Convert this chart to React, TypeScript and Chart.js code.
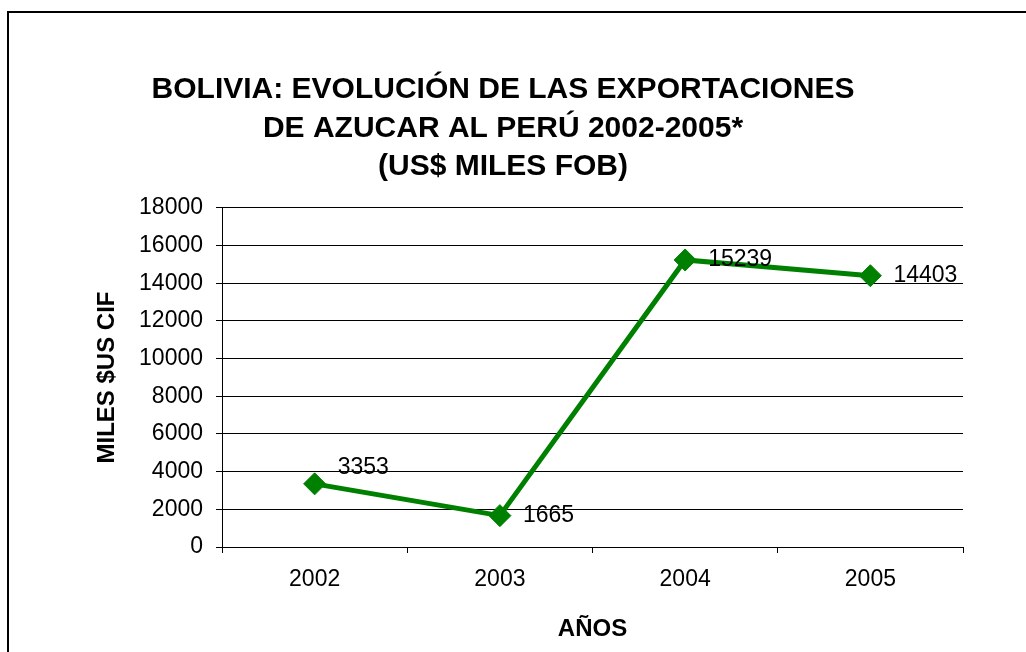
import React, { useEffect, useRef } from "react";
import { Chart, registerables } from "chart.js";

Chart.register(...registerables);

const years = ["2002", "2003", "2004", "2005"];
const exports = [3353, 1665, 15239, 14403];
const titleLines = [
  "BOLIVIA: EVOLUCIÓN DE LAS EXPORTACIONES",
  "DE AZUCAR AL PERÚ 2002-2005*",
  "(US$ MILES FOB)",
];
const yTitle = "MILES $US CIF";
const xTitle = "AÑOS";

const FONT = "'Liberation Sans', Arial, sans-serif";
const GREEN = "#008000";

const frame = {
  id: "frame",
  beforeDraw(chart: any) {
    const ctx = chart.ctx;
    ctx.save();
    ctx.fillStyle = "#fff";
    ctx.fillRect(0, 0, chart.width, chart.height);
    ctx.strokeStyle = "#000";
    ctx.lineWidth = 2;
    ctx.strokeRect(8, 12, chart.width + 50, chart.height + 50);
    ctx.restore();
  },
};

const valueLabels = {
  id: "valueLabels",
  afterDatasetsDraw(chart: any, _args: any, opts: any) {
    const ctx = chart.ctx;
    const meta = chart.getDatasetMeta(0);
    const data = chart.data.datasets[0].data;
    ctx.save();
    ctx.font = `23px ${FONT}`;
    ctx.fillStyle = "#000";
    ctx.textAlign = "left";
    ctx.textBaseline = "middle";
    meta.data.forEach((pt: any, i: number) => {
      const dy = (opts.shift && opts.shift[i]) || 0;
      ctx.fillText(String(data[i]), pt.x + 23, pt.y + dy);
    });
    ctx.restore();
  },
};

export default function App() {
  const ref = useRef<HTMLCanvasElement>(null);
  useEffect(() => {
    if (!ref.current) return;
    const chart = new Chart(ref.current, {
      type: "line",
      data: {
        labels: years,
        datasets: [
          {
            data: exports,
            borderColor: GREEN,
            backgroundColor: GREEN,
            borderWidth: 5,
            pointStyle: "rectRot",
            pointRadius: 11,
            pointBorderWidth: 1,
            pointBackgroundColor: GREEN,
            pointBorderColor: GREEN,
            tension: 0,
            yAxisID: "y",
          },
        ],
      },
      options: {
        animation: false,
        responsive: false,
        maintainAspectRatio: false,
        layout: { padding: { left: 0, right: 20, top: 0, bottom: 0 } },
        plugins: {
          legend: { display: false },
          tooltip: { enabled: false },
          title: {
            display: true,
            text: titleLines,
            color: "#000",
            font: { family: FONT, size: 30, weight: "bold", lineHeight: 1.283 },
            padding: { top: 70.5, bottom: 22 },
          },
          valueLabels: { shift: { 0: -16 } },
        } as any,
        scales: {
          x: {
            type: "category",
            offset: true,
            grid: {
              offset: true,
              drawOnChartArea: false,
              drawTicks: true,
              tickLength: 6,
              color: "#000",
              lineWidth: 1,
            },
            border: { display: true, color: "#000", width: 1 },
            ticks: { color: "#000", font: { family: FONT, size: 23 }, padding: 13 },
            title: {
              display: true,
              text: xTitle,
              color: "#000",
              font: { family: FONT, size: 24, weight: "bold" },
              padding: { top: 0, bottom: 8 },
            },
            afterFit(s: any) {
              s.height = 105;
            },
          },
          y: {
            type: "linear",
            position: "left",
            min: 0,
            max: 18000,
            ticks: {
              stepSize: 2000,
              color: "#000",
              font: { family: FONT, size: 23 },
              padding: 13,
              callback: (v: any) => String(v),
            },
            grid: { color: "#000", lineWidth: 1, drawTicks: true, tickLength: 6 },
            border: { display: true, color: "#000", width: 1 },
            title: {
              display: true,
              text: yTitle,
              color: "#000",
              font: { family: FONT, size: 24, weight: "bold" },
              padding: { top: 93, bottom: 0 },
            },
            afterFit(s: any) {
              s.width = 222;
            },
          },
          yR: {
            type: "linear",
            position: "right",
            display: true,
            grid: { display: false, drawTicks: false },
            ticks: { display: false },
            border: { display: false },
            afterFit(s: any) {
              s.width = 43;
            },
          },
        },
      } as any,
      plugins: [frame, valueLabels],
    });
    return () => chart.destroy();
  }, []);
  return (
    <div style={{ position: "absolute", left: 0, top: 0, width: 1026, height: 652 }}>
      <canvas ref={ref} width={1026} height={652} style={{ display: "block", width: 1026, height: 652 }} />
    </div>
  );
}
